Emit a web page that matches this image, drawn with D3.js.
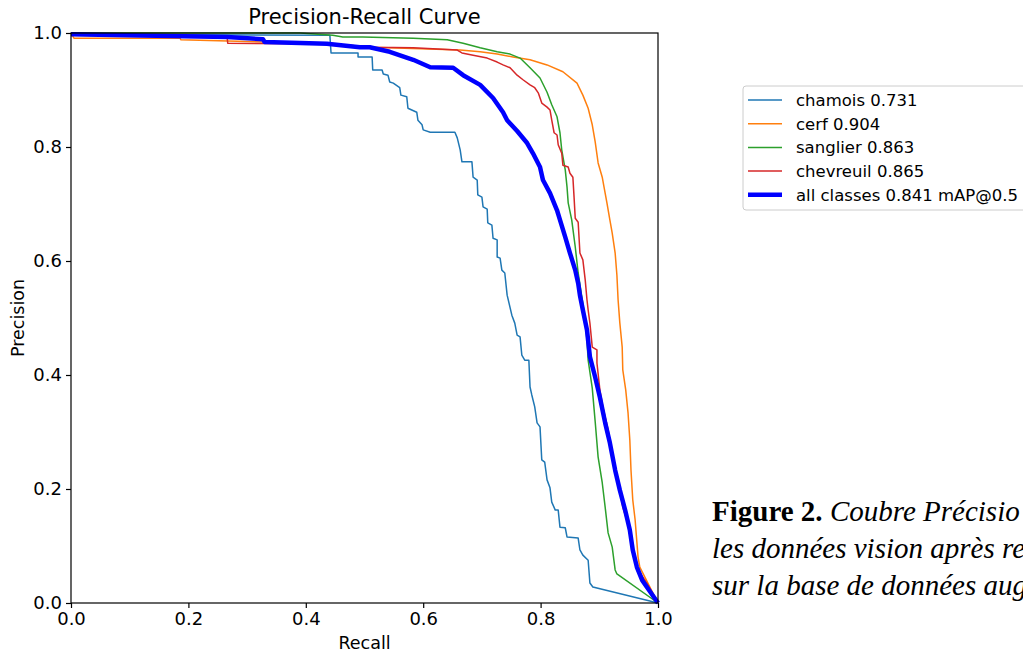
<!DOCTYPE html>
<html>
<head>
<meta charset="utf-8">
<script src="https://cdn.jsdelivr.net/npm/d3@7"></script>
<style>
html,body{margin:0;padding:0;background:#fff;overflow:hidden;}
svg{display:block;}
</style>
</head>
<body>
<svg id="chart" width="1023" height="657"></svg>
<script>
// ---- data (recall, precision) ----
const chamoisRecall = [0,0.441,0.443,0.489,0.489,0.513,0.514,0.530,0.532,0.540,0.543,0.549,0.560,0.562,0.572,0.574,0.589,0.591,0.598,0.600,0.612,0.654,0.658,0.663,0.666,0.683,0.685,0.692,0.693,0.700,0.702,0.709,0.710,0.717,0.719,0.726,0.726,0.731,0.734,0.739,0.743,0.751,0.756,0.760,0.765,0.768,0.773,0.780,0.782,0.785,0.790,0.794,0.799,0.802,0.807,0.811,0.816,0.819,0.825,0.830,0.833,0.842,0.845,0.864,0.867,0.872,0.881,0.884,0.889,1.0];
const chamoisPrecision = [0.998,0.996,0.965,0.965,0.958,0.958,0.935,0.935,0.928,0.926,0.914,0.912,0.904,0.891,0.888,0.868,0.861,0.847,0.839,0.830,0.826,0.826,0.816,0.795,0.774,0.774,0.747,0.742,0.716,0.712,0.695,0.691,0.667,0.663,0.640,0.637,0.607,0.605,0.584,0.579,0.540,0.505,0.491,0.470,0.467,0.435,0.426,0.426,0.379,0.365,0.344,0.316,0.309,0.251,0.247,0.216,0.202,0.177,0.163,0.163,0.133,0.132,0.116,0.114,0.093,0.084,0.075,0.035,0.028,0];

const cerfRecall = [0,0.005,0.186,0.187,0.267,0.441,0.514,0.663,0.697,0.726,0.753,0.782,0.811,0.838,0.862,0.872,0.881,0.888,0.893,0.898,0.905,0.908,0.913,0.918,0.922,0.927,0.930,0.932,0.935,0.939,0.940,0.945,0.949,0.952,0.954,0.957,0.961,0.966,0.969,1.0];
const cerfPrecision = [1.0,0.991,0.991,0.988,0.986,0.981,0.975,0.970,0.967,0.963,0.958,0.953,0.944,0.932,0.912,0.891,0.868,0.839,0.809,0.772,0.747,0.730,0.702,0.672,0.649,0.614,0.575,0.532,0.491,0.449,0.409,0.374,0.333,0.286,0.233,0.181,0.146,0.081,0.063,0];

const sanglierRecall = [0,0.390,0.446,0.463,0.497,0.583,0.641,0.668,0.697,0.726,0.748,0.765,0.782,0.799,0.811,0.819,0.828,0.833,0.836,0.842,0.845,0.847,0.853,0.859,0.864,0.871,0.876,0.879,0.881,0.888,0.893,0.898,0.905,0.910,0.915,0.922,0.927,0.930,1.0];
const sanglierPrecision = [1.0,1.0,0.996,0.993,0.993,0.991,0.988,0.982,0.974,0.967,0.963,0.956,0.939,0.921,0.896,0.874,0.853,0.825,0.795,0.760,0.730,0.702,0.672,0.625,0.579,0.532,0.496,0.461,0.426,0.377,0.318,0.256,0.211,0.168,0.123,0.098,0.058,0.051,0];

const chevreuilRecall = [0,0.266,0.267,0.441,0.514,0.583,0.658,0.666,0.685,0.709,0.726,0.736,0.748,0.760,0.770,0.782,0.790,0.796,0.802,0.811,0.816,0.819,0.823,0.828,0.830,0.836,0.838,0.847,0.850,0.855,0.857,0.859,0.864,0.867,0.872,0.876,0.879,0.881,0.884,0.888,0.896,0.896,0.901,0.906,0.915,0.923,0.930,0.935,0.940,0.952,0.957,0.966,0.981,1.0];
const chevreuilPrecision = [0.996,0.993,0.982,0.981,0.975,0.974,0.970,0.965,0.961,0.956,0.949,0.944,0.939,0.926,0.918,0.909,0.904,0.895,0.877,0.870,0.865,0.847,0.825,0.821,0.804,0.789,0.768,0.765,0.754,0.747,0.712,0.675,0.668,0.614,0.602,0.567,0.532,0.514,0.491,0.449,0.444,0.421,0.374,0.344,0.304,0.256,0.221,0.198,0.168,0.128,0.093,0.058,0.035,0];

const allRecall = [0,0.266,0.327,0.330,0.436,0.492,0.509,0.543,0.583,0.612,0.651,0.668,0.697,0.719,0.736,0.743,0.760,0.777,0.787,0.799,0.804,0.816,0.828,0.833,0.842,0.850,0.859,0.864,0.867,0.872,0.879,0.884,0.893,0.901,0.910,0.918,0.927,0.935,0.944,0.952,0.957,0.964,0.973,0.981,1.0];
const allPrecision = [0.998,0.993,0.989,0.984,0.981,0.975,0.975,0.967,0.953,0.940,0.939,0.926,0.909,0.886,0.861,0.847,0.828,0.807,0.789,0.765,0.742,0.719,0.689,0.672,0.642,0.614,0.584,0.561,0.540,0.514,0.479,0.432,0.396,0.361,0.316,0.281,0.233,0.198,0.163,0.128,0.093,0.063,0.040,0.028,0];

const seriesNames = ["chamois 0.731","cerf 0.904","sanglier 0.863","chevreuil 0.865","all classes 0.841 mAP@0.5"];
const seriesColors = ["#1f77b4","#ff7f0e","#2ca02c","#d62728","#0000ff"];
const tickValues = [0,0.2,0.4,0.6,0.8,1.0];
const captionLines = ["les données vision après re","sur la base de données aug"];

// ---- build ----
const series = [
  {name:seriesNames[0], color:seriesColors[0], w:1.5, r:chamoisRecall, p:chamoisPrecision},
  {name:seriesNames[1], color:seriesColors[1], w:1.5, r:cerfRecall, p:cerfPrecision},
  {name:seriesNames[2], color:seriesColors[2], w:1.5, r:sanglierRecall, p:sanglierPrecision},
  {name:seriesNames[3], color:seriesColors[3], w:1.5, r:chevreuilRecall, p:chevreuilPrecision},
  {name:seriesNames[4], color:seriesColors[4], w:4.5, r:allRecall, p:allPrecision}
];

const svg = d3.select("#chart");
const font = "'DejaVu Sans', sans-serif";
const L = 71, R = 658, T = 33, B = 603;
const x = d3.scaleLinear().domain([0,1]).range([L,R]);
const y = d3.scaleLinear().domain([0,1]).range([B,T]);

svg.append("rect").attr("width",1023).attr("height",657).attr("fill","#fff");

svg.append("defs").append("clipPath").attr("id","clip")
  .append("rect").attr("x",L-3).attr("y",T-3).attr("width",R-L+6).attr("height",B-T+6);

const line = d3.line().x(d=>x(d[0])).y(d=>y(d[1]));
const g = svg.append("g").attr("clip-path","url(#clip)");
series.forEach(s=>{
  const pts = s.r.map((v,i)=>[v,s.p[i]]);
  g.append("path").datum(pts).attr("d",line)
    .attr("fill","none").attr("stroke",s.color).attr("stroke-width",s.w)
    .attr("stroke-linejoin","round").attr("stroke-linecap","butt");
});

// frame
svg.append("rect").attr("x",L).attr("y",T).attr("width",R-L).attr("height",B-T)
  .attr("fill","none").attr("stroke","#000").attr("stroke-width",1.2);

// axes
const xAxis = svg.append("g").attr("transform",`translate(0,${B})`)
  .call(d3.axisBottom(x).tickValues(tickValues).tickFormat(d3.format(".1f")).tickSize(5).tickPadding(4));
const yAxis = svg.append("g").attr("transform",`translate(${L},0)`)
  .call(d3.axisLeft(y).tickValues(tickValues).tickFormat(d3.format(".1f")).tickSize(5).tickPadding(4));
[xAxis,yAxis].forEach(a=>{
  a.select(".domain").remove();
  a.selectAll("text").attr("font-family",font).attr("font-size",18).attr("fill","#000");
  a.selectAll("line").attr("stroke","#000").attr("stroke-width",1.2);
});

svg.append("text").attr("x",(L+R)/2).attr("y",24).attr("text-anchor","middle")
  .attr("font-family",font).attr("font-size",21).text("Precision-Recall Curve");
svg.append("text").attr("x",(L+R)/2).attr("y",649).attr("text-anchor","middle")
  .attr("font-family",font).attr("font-size",17.5).text("Recall");
svg.append("text").attr("transform",`translate(24,${(T+B)/2}) rotate(-90)`).attr("text-anchor","middle")
  .attr("font-family",font).attr("font-size",17.5).text("Precision");

// legend
const lg = svg.append("g");
lg.append("rect").attr("x",743).attr("y",86).attr("width",300).attr("height",124).attr("rx",3)
  .attr("fill","#fff").attr("stroke","#cccccc").attr("stroke-width",1);
series.forEach((s,i)=>{
  const yy = 100 + i*23.7;
  lg.append("line").attr("x1",748).attr("x2",782).attr("y1",yy).attr("y2",yy)
    .attr("stroke",s.color).attr("stroke-width",s.w);
  lg.append("text").attr("x",796).attr("y",yy+6).attr("font-family",font).attr("font-size",16.5)
    .text(s.name);
});

// caption
const cap = svg.append("text").attr("x",712).attr("y",521).attr("font-family","'Liberation Serif', serif").attr("font-size",29);
cap.append("tspan").attr("font-weight","bold").text("Figure 2.");
cap.append("tspan").attr("font-style","italic").text(" Coubre Précisio");
captionLines.forEach((t,i)=>{
  svg.append("text").attr("x",712).attr("y",558+37*i).attr("font-family","'Liberation Serif', serif")
    .attr("font-size",29).attr("font-style","italic").text(t);
});
</script>
</body>
</html>
